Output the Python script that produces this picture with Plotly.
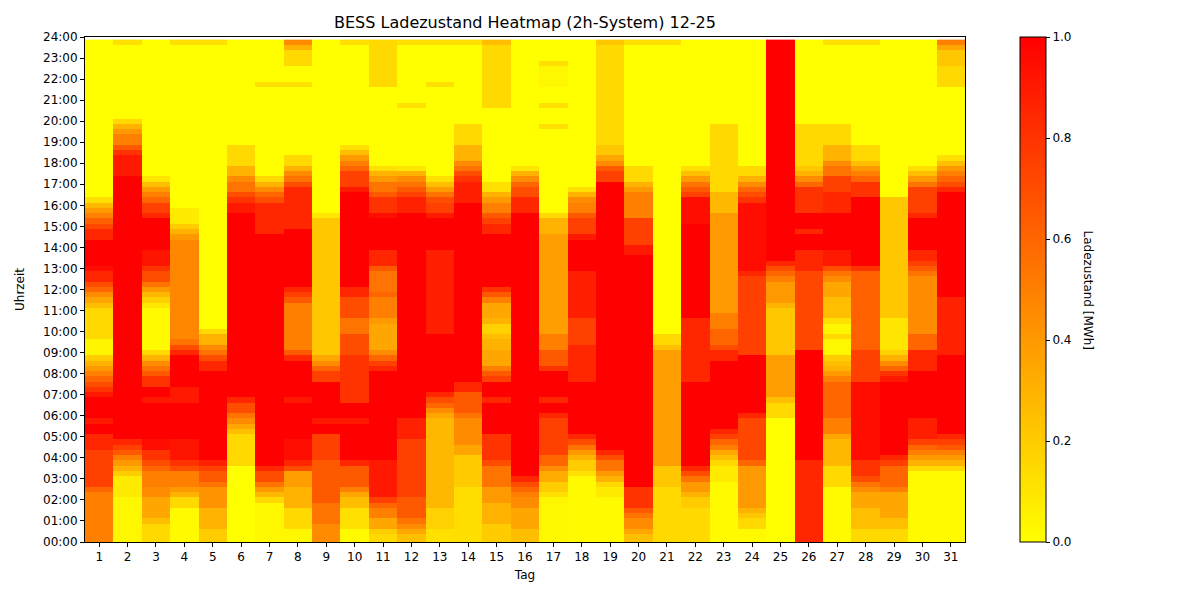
import plotly.graph_objects as go

# State of charge per day, read off the reference as steps:
# (start of quarter hour, value) -> value holds until the next entry
day_01 = [("00:00", .5), ("02:30", .6), ("02:45", .75), ("04:30", .85), ("05:15", 1), ("05:45", .9), ("06:00", 1),
          ("07:00", .9), ("07:15", .8), ("07:30", .7), ("07:45", .6), ("08:00", .5), ("08:15", .4), ("08:30", .3),
          ("08:45", .2), ("09:00", .04), ("09:45", .15), ("11:15", .25), ("11:30", .35), ("11:45", .45), ("12:00", .6),
          ("12:15", .7), ("12:30", .85), ("13:00", .95), ("13:15", 1), ("14:30", .85), ("15:00", .72), ("15:15", .62),
          ("15:30", .5), ("15:45", .4), ("16:00", .28), ("16:15", .12), ("16:30", 0)]
day_02 = [("00:00", .03), ("02:15", .08), ("03:15", .2), ("03:30", .3), ("03:45", .4), ("04:00", .5), ("04:15", .65),
          ("04:30", .75), ("04:45", .85), ("05:00", 1), ("17:30", .9), ("18:30", .8), ("18:45", .65), ("19:00", .5),
          ("19:30", .4), ("19:45", .3), ("20:00", .15), ("20:15", 0), ("23:45", .12)]
day_03 = [("00:00", .15), ("01:00", .25), ("01:15", .35), ("02:15", .45), ("02:45", .5), ("03:30", .6), ("03:45", .7),
          ("04:00", .8), ("04:30", .95), ("05:00", 1), ("06:45", .9), ("07:00", 1), ("07:30", .8), ("08:00", .65),
          ("08:15", .55), ("08:30", .45), ("08:45", .3), ("09:00", .15), ("09:15", .02), ("11:15", .1), ("11:30", .18),
          ("11:45", .28), ("12:00", .4), ("12:15", .55), ("12:30", .7), ("13:00", .8), ("13:15", .92), ("14:00", 1),
          ("15:30", .85), ("15:45", .75), ("16:15", .6), ("16:30", .5), ("16:45", .4), ("17:00", .25), ("17:15", .1),
          ("17:30", 0)]
day_04 = [("00:00", .02), ("01:45", .15), ("02:15", .3), ("02:30", .4), ("02:45", .5), ("03:30", .7), ("03:45", .8),
          ("04:00", .92), ("05:00", 1), ("06:45", .9), ("07:30", 1), ("09:00", .85), ("09:15", .7), ("09:30", .55),
          ("09:45", .47), ("14:30", .4), ("14:45", .3), ("15:00", .2), ("15:15", .08), ("16:00", 0), ("23:45", .12)]
day_05 = [("00:00", .2), ("00:45", .3), ("01:45", .42), ("02:45", .55), ("03:00", .65), ("03:30", .75), ("03:45", .87),
          ("04:00", 1), ("08:15", .85), ("08:45", .7), ("09:00", .55), ("09:15", .45), ("09:30", .3), ("10:00", .15),
          ("10:15", 0), ("23:45", .12)]
day_06 = [("00:00", 0), ("03:45", .15), ("05:15", .25), ("05:30", .35), ("05:45", .45), ("06:00", .55), ("06:15", .7),
          ("06:45", .85), ("07:00", 1), ("15:45", .9), ("16:15", .8), ("16:30", .7), ("16:45", .55), ("17:15", .45),
          ("17:30", .3), ("18:00", .15), ("19:00", 0)]
day_07 = [("00:00", .03), ("02:00", .15), ("02:15", .28), ("02:30", .4), ("02:45", .55), ("03:00", .7), ("03:30", .85),
          ("03:45", 1), ("14:45", .85), ("16:15", .7), ("16:30", .6), ("16:45", .45), ("17:00", .3), ("17:15", .15),
          ("17:30", 0), ("21:45", .12), ("22:00", 0)]
day_08 = [("00:00", .03), ("00:45", .15), ("01:45", .3), ("02:45", .38), ("03:30", .7), ("03:45", .85), ("04:00", .95),
          ("05:00", 1), ("06:45", .9), ("07:00", 1), ("08:45", .85), ("09:00", .65), ("09:15", .5), ("11:30", .65),
          ("11:45", .75), ("12:00", .85), ("12:15", 1), ("15:00", .85), ("17:00", .7), ("17:15", .55), ("17:30", .45),
          ("17:45", .3), ("18:00", .15), ("18:30", 0), ("21:45", .12), ("22:00", 0), ("22:45", .15), ("23:30", .3),
          ("23:45", .45)]
day_09 = [("00:00", .45), ("01:00", .55), ("02:00", .65), ("04:00", .75), ("05:15", 1), ("05:45", .9), ("06:00", 1),
          ("07:45", .75), ("08:15", .6), ("08:30", .45), ("08:45", .35), ("09:00", .22), ("15:30", .1), ("15:45", 0)]
day_10 = [("00:00", .02), ("00:45", .12), ("01:45", .25), ("02:15", .35), ("02:30", .5), ("02:45", .65), ("03:45", .85),
          ("04:00", 1), ("05:45", .9), ("06:00", 1), ("06:45", .8), ("09:00", .7), ("10:00", .55), ("10:45", .7),
          ("11:45", .85), ("12:15", 1), ("16:45", .9), ("17:00", .75), ("17:45", .6), ("18:00", .5), ("18:15", .4),
          ("18:30", .25), ("18:45", .12), ("19:00", 0), ("23:45", .12)]
day_11 = [("00:00", .15), ("00:30", .2), ("00:45", .35), ("01:15", .5), ("01:45", .6), ("02:00", .75), ("02:15", .9),
          ("04:00", 1), ("08:15", .85), ("08:30", .75), ("08:45", .6), ("09:00", .45), ("09:15", .35), ("10:30", .4),
          ("10:45", .5), ("11:45", .6), ("12:00", .55), ("13:00", .65), ("13:15", .85), ("14:00", 1), ("15:30", .95),
          ("15:45", .8), ("16:30", .65), ("16:45", .55), ("17:15", .4), ("17:30", .3), ("17:45", .12), ("18:00", 0),
          ("21:45", .15)]
day_12 = [("00:00", .25), ("00:30", .35), ("00:45", .45), ("01:00", .55), ("01:15", .65), ("02:15", .75), ("05:00", .87),
          ("06:00", 1), ("15:45", .87), ("16:30", .75), ("16:45", .65), ("17:00", .55), ("17:15", .45), ("17:30", .3),
          ("17:45", .1), ("18:00", 0), ("20:45", .12), ("21:00", 0), ("23:45", .12)]
day_13 = [("00:00", .12), ("00:45", .18), ("01:45", .28), ("06:00", .35), ("06:15", .45), ("06:30", .6), ("06:45", .7),
          ("07:00", .85), ("07:15", 1), ("10:00", .88), ("14:00", 1), ("15:30", .9), ("15:45", .75), ("16:15", .7),
          ("16:30", .55), ("16:45", .4), ("17:00", .25), ("17:15", .12), ("17:30", 0), ("21:45", .12), ("22:00", 0),
          ("23:45", .12)]
day_14 = [("00:00", .13), ("02:45", .2), ("04:15", .35), ("04:45", .45), ("06:00", .55), ("06:15", .65), ("07:15", .85),
          ("07:45", 1), ("16:15", .88), ("17:15", .8), ("17:30", .7), ("17:45", .55), ("18:00", .45), ("18:15", .3),
          ("19:00", .15), ("20:00", 0), ("23:45", .12)]
day_15 = [("00:00", .2), ("01:00", .3), ("02:00", .4), ("02:45", .55), ("03:45", .7), ("04:00", .8), ("05:15", 1),
          ("06:45", .85), ("07:00", 1), ("07:45", .75), ("08:00", .65), ("08:15", .5), ("08:30", .35), ("09:15", .3),
          ("09:45", .25), ("10:00", .18), ("10:30", .3), ("10:45", .35), ("11:30", .5), ("11:45", .65), ("12:00", .8),
          ("12:15", 1), ("14:45", .85), ("15:15", .75), ("15:30", .65), ("15:45", .5), ("16:15", .4), ("16:30", .3),
          ("16:45", .12), ("17:15", 0), ("20:45", .15), ("23:45", .25)]
day_16 = [("00:00", .25), ("00:45", .35), ("01:45", .45), ("02:15", .5), ("02:30", .6), ("02:45", .7), ("03:00", .85),
          ("03:15", 1), ("15:45", .85), ("16:30", .7), ("17:00", .6), ("17:15", .45), ("17:30", .3), ("17:45", .1),
          ("18:00", 0)]
day_17 = [("00:00", .03), ("02:15", .12), ("02:30", .2), ("03:00", .33), ("03:30", .45), ("03:45", .6), ("04:15", .75),
          ("06:00", .85), ("06:15", 1), ("06:45", .85), ("07:00", 1), ("08:15", .8), ("08:30", .65), ("09:15", .5),
          ("10:00", .38), ("14:45", .3), ("15:30", .15), ("15:45", 0), ("19:45", .12), ("20:00", 0), ("20:45", .12),
          ("21:00", 0), ("21:45", .03), ("22:45", .12), ("23:00", 0)]
day_18 = [("00:00", .02), ("03:15", .12), ("03:30", .2), ("04:00", .3), ("04:15", .4), ("04:30", .55), ("04:45", .7),
          ("05:00", .85), ("05:15", 1), ("07:45", .85), ("09:30", .75), ("10:45", .88), ("13:00", 1), ("14:30", .9),
          ("14:45", .75), ("15:30", .65), ("15:45", .5), ("16:15", .45), ("16:30", .3), ("16:45", .12), ("17:00", 0)]
day_19 = [("00:00", .02), ("02:15", .08), ("02:45", .15), ("03:00", .3), ("03:15", .4), ("03:30", .55), ("04:00", .7),
          ("04:15", .85), ("04:30", 1), ("17:15", .75), ("17:45", .65), ("18:00", .45), ("18:15", .35), ("18:30", .22),
          ("19:00", .15), ("23:45", .22)]
day_20 = [("00:00", .25), ("00:30", .35), ("00:45", .45), ("01:15", .55), ("01:30", .65), ("01:45", .8), ("02:45", 1),
          ("13:45", .9), ("14:15", .75), ("15:30", .5), ("16:45", .4), ("17:00", .3), ("17:15", .15), ("18:00", 0),
          ("23:45", .12)]
day_21 = [("00:00", .15), ("02:45", .22), ("03:45", .38), ("09:15", .25), ("09:30", .15), ("10:00", 0), ("23:45", .12)]
day_22 = [("00:00", .15), ("01:45", .2), ("02:15", .3), ("02:30", .4), ("03:00", .55), ("03:15", .7), ("03:30", .85),
          ("03:45", 1), ("07:45", .85), ("10:45", 1), ("15:15", .95), ("16:30", .75), ("16:45", .65), ("17:00", .55),
          ("17:15", .4), ("17:30", .25), ("17:45", .12), ("18:00", 0)]
day_23 = [("00:00", .02), ("03:00", .08), ("03:45", .15), ("04:00", .25), ("04:15", .35), ("04:30", .5), ("04:45", .6),
          ("05:00", .75), ("05:15", .85), ("05:30", 1), ("08:45", .85), ("09:15", .7), ("09:30", .6), ("10:15", .5),
          ("11:00", .4), ("15:45", .28), ("16:45", .15), ("20:00", 0)]
day_24 = [("00:00", .02), ("00:45", .15), ("01:15", .22), ("01:30", .3), ("01:45", .4), ("03:45", .6), ("04:00", .72),
          ("06:00", .85), ("06:15", 1), ("09:00", .75), ("12:45", .85), ("13:00", .95), ("16:15", .8), ("16:30", .7),
          ("16:45", .6), ("17:00", .45), ("17:15", .3), ("17:30", .15), ("18:00", 0)]
day_25 = [("00:00", 0), ("06:00", .15), ("06:45", .25), ("07:00", .38), ("09:00", .22), ("11:15", .3), ("11:30", .4),
          ("12:30", .5), ("12:45", .6), ("13:00", .7), ("13:15", .85), ("13:30", 1)]
day_26 = [("00:00", .85), ("04:00", 1), ("09:15", .72), ("13:00", .85), ("14:00", 1), ("14:45", .85), ("15:00", 1),
          ("15:45", .8), ("17:00", .6), ("17:15", .45), ("17:30", .3), ("17:45", .22), ("18:00", .15), ("20:00", 0)]
day_27 = [("00:00", .02), ("02:45", .15), ("03:45", .28), ("05:00", .35), ("05:15", .5), ("06:00", .6), ("07:45", .5),
          ("08:00", .4), ("08:15", .3), ("08:30", .25), ("08:45", .2), ("09:00", .03), ("09:45", .15), ("10:00", .03),
          ("10:30", .12), ("10:45", .25), ("11:45", .35), ("12:30", .45), ("12:45", .55), ("13:00", .7), ("13:15", .9),
          ("14:00", 1), ("15:45", .85), ("16:45", .75), ("17:30", .55), ("18:00", .45), ("18:15", .3), ("19:00", .15),
          ("20:00", 0), ("23:45", .12)]
day_28 = [("00:00", .15), ("00:45", .25), ("01:45", .35), ("02:30", .45), ("02:45", .55), ("03:00", .7), ("03:15", .8),
          ("04:00", .95), ("07:45", .75), ("09:15", .62), ("13:00", .8), ("13:15", 1), ("16:30", .8), ("17:15", .6),
          ("17:30", .5), ("17:45", .4), ("18:00", .25), ("18:15", .15), ("19:00", 0), ("23:45", .12)]
day_29 = [("00:00", .15), ("00:45", .25), ("01:15", .35), ("02:30", .5), ("02:45", .6), ("03:45", .75), ("04:00", .85),
          ("04:15", 1), ("07:45", .9), ("08:00", .8), ("08:15", .6), ("08:30", .45), ("08:45", .3), ("09:00", .18),
          ("09:15", .1), ("10:45", .22), ("16:30", 0)]
day_30 = [("00:00", .02), ("03:30", .15), ("03:45", .3), ("04:00", .4), ("04:15", .5), ("04:30", .6), ("04:45", .75),
          ("05:00", .88), ("06:00", 1), ("08:15", .85), ("09:15", .6), ("10:00", .45), ("12:45", .55), ("13:00", .65),
          ("13:15", .75), ("13:30", .85), ("14:00", 1), ("15:30", .85), ("15:45", .75), ("17:00", .55), ("17:15", .4),
          ("17:30", .25), ("17:45", .12), ("18:00", 0)]
day_31 = [("00:00", .02), ("03:30", .15), ("03:45", .3), ("04:00", .4), ("04:15", .5), ("04:30", .65), ("04:45", .75),
          ("05:00", .85), ("05:15", 1), ("09:00", .87), ("11:45", 1), ("16:45", .85), ("17:00", .7), ("17:15", .6),
          ("17:30", .5), ("17:45", .4), ("18:00", .25), ("18:15", .12), ("18:30", 0), ("21:45", .15), ("22:45", .22),
          ("23:30", .35), ("23:45", .5)]

days = list(range(1, 32))
all_days = [day_01, day_02, day_03, day_04, day_05, day_06, day_07, day_08, day_09, day_10, day_11,
            day_12, day_13, day_14, day_15, day_16, day_17, day_18, day_19, day_20, day_21, day_22,
            day_23, day_24, day_25, day_26, day_27, day_28, day_29, day_30, day_31]
hour_labels = [f"{h:02d}:00" for h in range(25)]


def to_hours(s):
    h, m = s.split(":")
    return int(h) + int(m) / 60


def expand(steps):
    # one value per quarter hour, 96 rows
    out = []
    for i in range(96):
        t = i * 0.25
        v = steps[0][1]
        for start, val in steps:
            if to_hours(start) <= t + 1e-9:
                v = val
        out.append(v)
    return out


quarters = [i * 0.25 for i in range(96)]
columns = [expand(d) for d in all_days]
z = [[columns[d][q] for d in range(31)] for q in range(96)]

font = "DejaVu Sans"

fig = go.Figure(go.Heatmap(
    x=days,
    y=quarters,
    z=z,
    zmin=0, zmax=1,
    colorscale=[[0, "rgb(255,255,0)"], [1, "rgb(255,0,0)"]],
    colorbar=dict(
        x=1.0625, xanchor="left", xpad=0, y=0.5, yanchor="middle", ypad=0,
        len=1, lenmode="fraction", thickness=26, thicknessmode="pixels",
        outlinewidth=1, outlinecolor="black",
        tickvals=[0, 0.2, 0.4, 0.6, 0.8, 1.0],
        ticktext=["0.0", "0.2", "0.4", "0.6", "0.8", "1.0"],
        ticks="outside", ticklen=4, tickcolor="black",
        tickfont=dict(family=font, size=12, color="black"),
    ),
))

# colorbar label reads top to bottom, as in the original
fig.add_annotation(text="Ladezustand [MWh]", xref="paper", yref="paper", x=1.15, y=0.5,
                   textangle=90, showarrow=False, font=dict(family=font, size=12, color="black"))

fig.update_layout(
    width=1200, height=600,
    margin=dict(l=77, r=243, t=29, b=66),
    paper_bgcolor="white", plot_bgcolor="white",
    title=dict(text="BESS Ladezustand Heatmap (2h-System) 12-25", xref="paper", x=0.5, xanchor="center",
               y=1 - 14 / 600, yanchor="middle",
               font=dict(family=font, size=16, color="black")),
    xaxis=dict(
        range=[0.5, 31.5], tickvals=days, ticktext=[str(d) for d in days],
        ticks="outside", ticklen=4, tickcolor="black",
        showline=True, linecolor="black", linewidth=1, mirror=True, showgrid=False, zeroline=False,
        tickfont=dict(family=font, size=12, color="black"),
        title=dict(text="Tag", font=dict(family=font, size=12, color="black"), standoff=7),
    ),
    yaxis=dict(
        range=[0, 24], tickvals=list(range(25)), ticktext=hour_labels,
        ticks="outside", ticklen=4, tickcolor="black",
        showline=True, linecolor="black", linewidth=1, mirror=True, showgrid=False, zeroline=False,
        tickfont=dict(family=font, size=12, color="black"),
        title=dict(text="Uhrzeit", font=dict(family=font, size=12, color="black"), standoff=15),
    ),
)

fig.write_html("out.html")
